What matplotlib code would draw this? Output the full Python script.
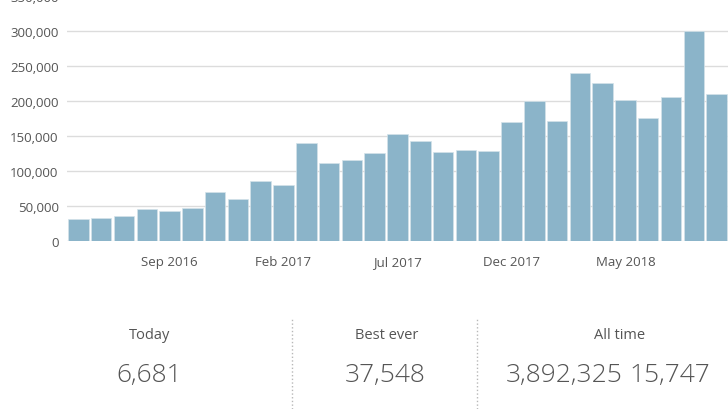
import matplotlib
matplotlib.use("Agg")
import matplotlib.pyplot as plt
from matplotlib.lines import Line2D
from matplotlib.ticker import FuncFormatter, MultipleLocator

# monthly views, May 2016 .. Sep 2018
views = [31900, 32900, 35700, 45200, 43300, 47600, 70500, 60500, 85200, 80500,
         140500, 111400, 115200, 125700, 152900, 142400, 126700, 130500, 128600,
         169500, 199500, 171000, 240500, 226200, 201400, 175200, 205200, 300000,
         210500]
tick_pos = [4, 9, 14, 19, 24]
tick_labels = ["Sep 2016", "Feb 2017", "Jul 2017", "Dec 2017", "May 2018"]

stat_titles = ["Today", "Best ever", "All time"]
stat_values = ["6,681", "37,548", "3,892,325"]
extra_value = "15,747"

plt.rcParams['font.family'] = ['Open Sans', 'DejaVu Sans']

fig = plt.figure(figsize=(7.28, 4.10), dpi=100)
W, H = 728, 410
ax = fig.add_axes([67 / W, 1 - 242 / H, 1 - 67 / W, (242 + 3) / H])

ax.bar(range(len(views)), views, width=0.9, color="#8bb4c9",
       edgecolor="#d4e3ea", linewidth=0.5, zorder=2)
ax.set_xlim(-0.5, len(views) - 0.5)
ax.set_ylim(0, 350000)
ax.yaxis.set_major_locator(MultipleLocator(50000))
ax.yaxis.set_major_formatter(FuncFormatter(lambda v, p: f"{int(v):,}"))
ax.set_xticks(tick_pos)
ax.set_xticklabels(tick_labels)
ax.grid(axis="y", color="#dcdcdc", linewidth=1, zorder=0)
ax.tick_params(axis="both", length=0, labelsize=9.5, labelcolor="#555555")
ax.tick_params(axis="y", pad=6)
ax.tick_params(axis="x", pad=10)
for s in ax.spines.values():
    s.set_visible(False)

# summary panel below the chart
centers = [150, 387, 620]
for cx, t in zip(centers, stat_titles):
    fig.text(cx / W, 1 - 336 / H, t, ha="center", va="center",
             fontsize=10.5, color="#555555")
for cx, v in zip([149, 385], stat_values[:2]):
    fig.text(cx / W, 1 - 376 / H, v, ha="center", va="center",
             fontsize=19, color="#555555", fontweight="light")
fig.text(623 / W, 1 - 376 / H, stat_values[2], ha="right", va="center",
         fontsize=19, color="#555555", fontweight="light")
fig.text(710 / W, 1 - 376 / H, extra_value, ha="right", va="center",
         fontsize=19, color="#555555", fontweight="light")

for dx in [292, 477]:
    fig.add_artist(Line2D([dx / W, dx / W], [0, 1 - 318 / H],
                          transform=fig.transFigure, color="#b8b8b8",
                          linestyle=":", linewidth=1))

fig.savefig("out.png", dpi=100)
